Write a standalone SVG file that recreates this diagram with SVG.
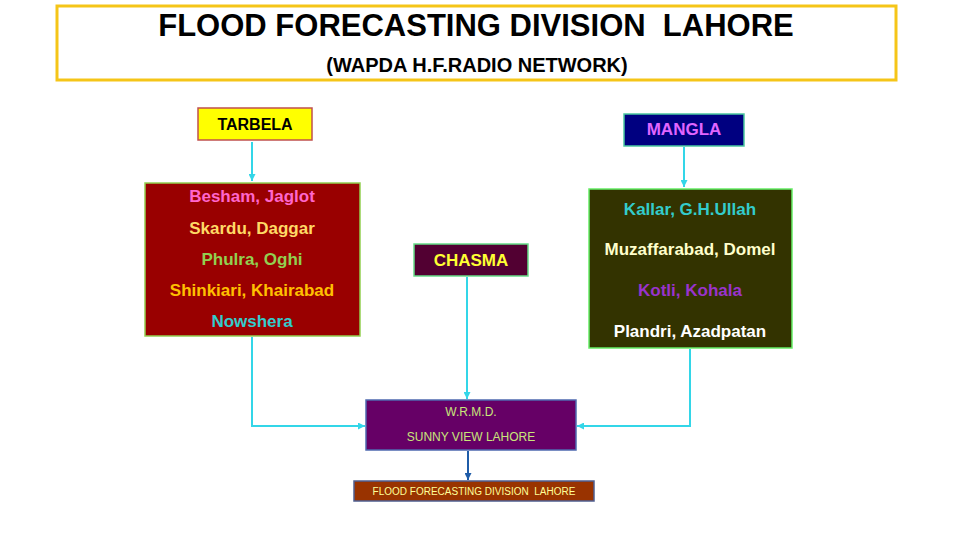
<svg xmlns="http://www.w3.org/2000/svg" width="960" height="540" viewBox="0 0 960 540">
<defs>
<style>
.t{font-family:"Liberation Sans",Arial,sans-serif;font-weight:bold;text-anchor:middle}
.r{font-family:"Liberation Sans",Arial,sans-serif;text-anchor:middle}
.c{fill:none;stroke:#33D6E8;stroke-width:2}
</style>
<marker id="ac" viewBox="0 0 10 10" refX="10" refY="5" markerWidth="7" markerHeight="7" markerUnits="userSpaceOnUse" orient="auto"><path d="M0,0L10,5L0,10z" fill="#33D6E8"/></marker>
<marker id="ab" viewBox="0 0 10 10" refX="10" refY="5" markerWidth="7" markerHeight="7" markerUnits="userSpaceOnUse" orient="auto"><path d="M0,0L10,5L0,10z" fill="#1F5CA8"/></marker>
</defs>
<rect width="960" height="540" fill="#FFFFFF"/>
<g id="title">
<rect x="57" y="6" width="839" height="74" fill="#FFFFFF" stroke="#F5C518" stroke-width="3"/>
<text class="t" x="476" y="36" font-size="31" fill="#000000" xml:space="preserve">FLOOD FORECASTING DIVISION  LAHORE</text>
<text class="t" x="477" y="72" font-size="20" fill="#000000">(WAPDA H.F.RADIO NETWORK)</text>
</g>
<g id="connectors">
<line class="c" x1="252" y1="142" x2="252" y2="181" marker-end="url(#ac)"/>
<line class="c" x1="684" y1="147" x2="684" y2="187" marker-end="url(#ac)"/>
<line class="c" x1="467" y1="277" x2="467" y2="399" marker-end="url(#ac)"/>
<polyline class="c" points="252,337 252,426 365,426" marker-end="url(#ac)"/>
<polyline class="c" points="690,349 690,426 577,426" marker-end="url(#ac)"/>
<line x1="468" y1="451" x2="468" y2="480" stroke="#1F5CA8" stroke-width="2" marker-end="url(#ab)"/>
</g>
<g id="tarbela">
<rect x="198" y="108" width="114" height="32" fill="#FFFF00" stroke="#C0504D" stroke-width="1.5"/>
<text class="t" x="255" y="130" font-size="16" fill="#000000">TARBELA</text>
</g>
<g id="tarbela-stations">
<rect x="145" y="183" width="215" height="153" fill="#990000" stroke="#92D050" stroke-width="1.5"/>
<text class="t" x="252" y="202" font-size="17" fill="#FF66CC">Besham, Jaglot</text>
<text class="t" x="252" y="234" font-size="17" fill="#FFD966">Skardu, Daggar</text>
<text class="t" x="252" y="265" font-size="17" fill="#92D050">Phulra, Oghi</text>
<text class="t" x="252" y="296" font-size="17" fill="#FFC000">Shinkiari, Khairabad</text>
<text class="t" x="252" y="327" font-size="17" fill="#33CCCC">Nowshera</text>
</g>
<g id="mangla">
<rect x="624" y="114" width="120" height="32" fill="#000080" stroke="#4BC8A0" stroke-width="1.5"/>
<text class="t" x="684" y="135" font-size="17" fill="#E066FF">MANGLA</text>
</g>
<g id="mangla-stations">
<rect x="589" y="189" width="203" height="159" fill="#333300" stroke="#66EE66" stroke-width="1.5"/>
<text class="t" x="690" y="215" font-size="17" fill="#33CCCC">Kallar, G.H.Ullah</text>
<text class="t" x="690" y="255" font-size="17" fill="#FFFFCC">Muzaffarabad, Domel</text>
<text class="t" x="690" y="296" font-size="17" fill="#9933CC">Kotli, Kohala</text>
<text class="t" x="690" y="337" font-size="17" fill="#FFFFFF">Plandri, Azadpatan</text>
</g>
<g id="chasma">
<rect x="414" y="244" width="114" height="32" fill="#520032" stroke="#66DD88" stroke-width="1.5"/>
<text class="t" x="471" y="266" font-size="17" fill="#FFFF33">CHASMA</text>
</g>
<g id="wrmd">
<rect x="366" y="400" width="210" height="50" fill="#660066" stroke="#4F6AB0" stroke-width="1.5"/>
<text class="r" x="471" y="416" font-size="12" fill="#C8E67A">W.R.M.D.</text>
<text class="r" x="471" y="441" font-size="12" fill="#C8E67A">SUNNY VIEW LAHORE</text>
</g>
<g id="ffd">
<rect x="354" y="481" width="240" height="20" fill="#993300" stroke="#4F5F90" stroke-width="1.5"/>
<text class="r" x="474" y="495" font-size="10" fill="#FFFF99" xml:space="preserve">FLOOD FORECASTING DIVISION  LAHORE</text>
</g>
</svg>
